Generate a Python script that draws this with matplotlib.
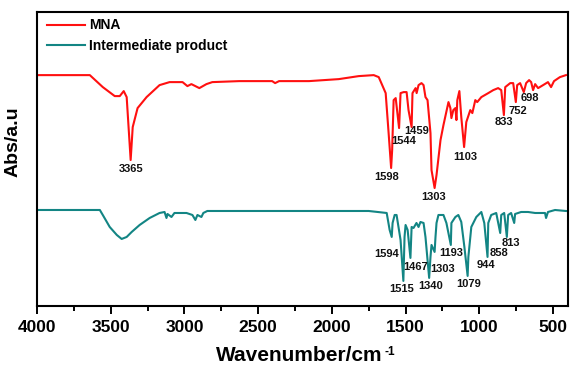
import matplotlib
matplotlib.use('Agg')
from matplotlib import pyplot as plt
from matplotlib.ticker import MultipleLocator

plt.rcParams['font.family'] = ['Liberation Sans', 'DejaVu Sans']
plt.rcParams['font.weight'] = 'bold'

# MNA spectrum (wavenumber, intensity a.u.)
mna_wn = [4000, 3642, 3554, 3473, 3439, 3412, 3392, 3365, 3351, 3318, 3257, 3169,
          3101, 3013, 2980, 2953, 2899, 2851, 2811, 2628, 2405, 2385, 2358, 2155,
          1953, 1818, 1716, 1682, 1635, 1615, 1598, 1591, 1581, 1567, 1544, 1534,
          1513, 1493, 1480, 1459, 1453, 1432, 1425, 1412, 1392, 1378, 1365, 1351,
          1331, 1324, 1303, 1290, 1263, 1243, 1209, 1196, 1189, 1176, 1162, 1155,
          1149, 1135, 1122, 1103, 1088, 1061, 1047, 1027, 1014, 986, 939, 905, 872,
          851, 833, 824, 790, 770, 752, 743, 723, 698, 682, 662, 648, 635, 621, 601,
          567, 534, 513, 493, 453, 412]
mna_y = [231, 231, 219, 210, 210, 215, 209, 146, 179, 198, 209, 221,
         224, 224, 220, 222, 218, 222, 224, 225, 225, 223, 225, 225,
         227, 230, 231, 229, 213, 173, 138, 156, 206, 208, 178, 213,
         214, 214, 196, 179, 213, 218, 213, 221, 223, 221, 209, 206,
         173, 136, 118, 131, 166, 181, 204, 198, 188, 196, 198, 186,
         206, 215, 189, 159, 184, 196, 193, 206, 204, 209, 213, 216, 218,
         216, 191, 219, 223, 223, 204, 221, 223, 214, 223, 226, 224, 216, 222, 218,
         221, 224, 219, 225, 229, 231]

# Intermediate product spectrum
int_wn = [4000, 3574, 3554, 3507, 3459, 3426, 3392, 3358, 3304, 3236, 3169, 3135,
          3122, 3115, 3088, 3068, 2986, 2946, 2926, 2912, 2885, 2872, 2845, 2716,
          2446, 2155, 1750, 1628, 1608, 1594, 1588, 1574, 1561, 1534, 1515, 1507,
          1500, 1486, 1467, 1459, 1446, 1426, 1412, 1399, 1378, 1365, 1351, 1340,
          1331, 1324, 1303, 1297, 1290, 1277, 1243, 1223, 1193, 1189, 1162, 1142,
          1122, 1101, 1079, 1074, 1054, 1020, 986, 966, 944, 939, 919, 885, 858,
          851, 831, 813, 804, 784, 763, 757, 716, 669, 621, 554, 547, 534, 486, 412]
int_y = [96, 96, 91, 79, 71, 67, 69, 74, 81, 88, 93, 94,
         88, 92, 89, 93, 93, 91, 86, 91, 89, 93, 95, 95,
         95, 95, 95, 93, 76, 69, 83, 91, 91, 66, 25, 69,
         81, 76, 48, 79, 78, 83, 79, 84, 83, 69, 46, 28,
         49, 61, 54, 69, 83, 91, 91, 83, 61, 83, 89, 91,
         84, 59, 30, 49, 79, 89, 94, 83, 49, 83, 91, 93, 73,
         91, 93, 69, 91, 93, 83, 92, 94, 94, 93, 93, 88, 94, 96, 95]

# peak labels: text, x, y
mna_lab = ['3365', '1598', '1544', '1459', '1303', '1103', '833', '752', '698']
mna_lab_x = [3365, 1628, 1513, 1426, 1311, 1094, 831, 736, 655]
mna_lab_y = [137, 129, 165, 175, 109, 149, 184, 195, 208]

int_lab = ['1594', '1515', '1467', '1340', '1303', '1193', '1079', '944', '858', '813']
int_lab_x = [1628, 1527, 1432, 1331, 1250, 1189, 1074, 953, 865, 784]
int_lab_y = [52, 17, 39, 20, 37, 53, 22, 41, 53, 63]

red = '#ff1010'
teal = '#138584'

fig = plt.figure(figsize=(5.7, 3.69), dpi=100)
ax = fig.add_axes([0.065, 0.171, 0.931, 0.796])

ax.plot(mna_wn, mna_y, color=red, lw=1.5, label='MNA')
ax.plot(int_wn, int_y, color=teal, lw=1.5, label='Intermediate product')

for t, x, y in zip(mna_lab, mna_lab_x, mna_lab_y):
    ax.text(x, y, t, fontsize=8, ha='center', va='center', color='#111111')
for t, x, y in zip(int_lab, int_lab_x, int_lab_y):
    ax.text(x, y, t, fontsize=8, ha='center', va='center', color='#111111')

ax.set_xlim(4000, 400)
ax.set_ylim(0, 294)
ax.xaxis.set_major_locator(MultipleLocator(500))
ax.xaxis.set_minor_locator(MultipleLocator(250))
ax.tick_params(axis='x', which='major', length=6, width=1.4, labelsize=12.5, pad=4)
ax.tick_params(axis='x', which='minor', length=3.5, width=1.4)
ax.set_yticks([])
for s in ax.spines.values():
    s.set_linewidth(1.5)

xl = ax.set_xlabel('Wavenumber/cm', fontsize=15, fontweight='bold')
ax.xaxis.set_label_coords(0.495, -0.135)
ax.set_ylabel('Abs/a.u', fontsize=14, fontweight='bold')
ax.yaxis.set_label_coords(-0.03, 0.56)

# superscript -1 after the x label
fig.canvas.draw()
bb = xl.get_window_extent().transformed(fig.transFigure.inverted())
fig.text(bb.x1 + 0.002, bb.y1 - 0.002, '-1', fontsize=8.5, fontweight='bold', ha='left', va='top')

ax.legend(loc='upper left', bbox_to_anchor=(0.007, 1.0), frameon=False, fontsize=10,
          handlelength=2.7, handletextpad=0.3, labelspacing=0.45, borderaxespad=0.05)

fig.savefig('out.png', dpi=100)
